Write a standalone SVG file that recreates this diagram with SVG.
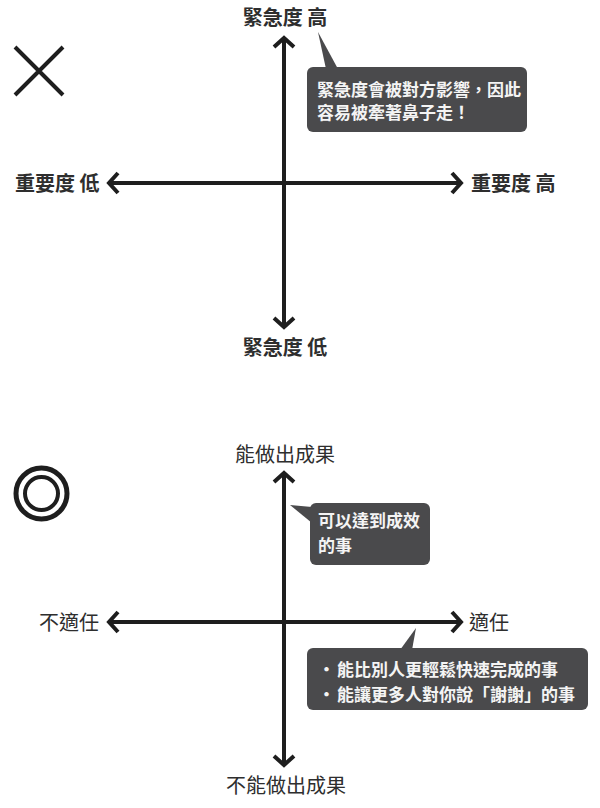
<svg xmlns="http://www.w3.org/2000/svg" width="600" height="808" viewBox="0 0 600 808">
<style>
.lbl{font-family:"Noto Sans CJK TC","Noto Sans CJK SC",sans-serif;fill:#2e2e2e;font-size:20px}
.b{font-weight:700}
.axis{stroke:#1e1e1e;stroke-width:4;fill:none}
.bubble{fill:#4a4a4c}
.btxt{font-family:"Noto Sans CJK TC","Noto Sans CJK SC",sans-serif;fill:#f4f4f4;font-size:17px;font-weight:700}
.mark{stroke:#1e1e1e;fill:none}
</style>
<defs>
<marker id="chev" markerUnits="userSpaceOnUse" markerWidth="30" markerHeight="30" viewBox="-15 -15 30 30" refX="0" refY="0" orient="auto-start-reverse">
<path d="M-10,-10 L-1,0 L-10,10" fill="none" stroke="#1e1e1e" stroke-width="4"/>
</marker>
</defs>
<rect width="600" height="808" fill="#ffffff"/>
<g id="connectors">
<line class="axis" x1="284" y1="328" x2="284" y2="37" marker-start="url(#chev)" marker-end="url(#chev)"/>
<line class="axis" x1="108" y1="183" x2="462" y2="183" marker-start="url(#chev)" marker-end="url(#chev)"/>
<line class="axis" x1="284" y1="766" x2="284" y2="472" marker-start="url(#chev)" marker-end="url(#chev)"/>
<line class="axis" x1="108" y1="622" x2="462" y2="622" marker-start="url(#chev)" marker-end="url(#chev)"/>
</g>
<g id="mark-cross">
<path class="mark" stroke-width="4" d="M15,47 L63,95 M63,47 L15,95"/>
</g>
<g id="mark-double-circle">
<circle class="mark" cx="41.5" cy="493.5" r="25.5" stroke-width="5"/>
<circle class="mark" cx="41.5" cy="493.5" r="16.5" stroke-width="4"/>
</g>
<g id="label-urgency-high"><text class="lbl b" x="285" y="25" text-anchor="middle">緊急度 高</text></g>
<g id="label-urgency-low"><text class="lbl b" x="285" y="355" text-anchor="middle">緊急度 低</text></g>
<g id="label-importance-low"><text class="lbl b" x="15" y="191">重要度 低</text></g>
<g id="label-importance-high"><text class="lbl b" x="471" y="191">重要度 高</text></g>
<g id="callout-urgency">
<polygon class="bubble" points="318,32 326,69 338,69"/>
<rect class="bubble" x="307" y="67" width="220" height="65" rx="6"/>
<text class="btxt" x="317" y="96">緊急度會被對方影響，因此</text>
<text class="btxt" x="317" y="119">容易被牽著鼻子走！</text>
</g>
<g id="label-result-yes"><text class="lbl" x="285" y="462" text-anchor="middle">能做出成果</text></g>
<g id="label-result-no"><text class="lbl" x="286" y="793" text-anchor="middle">不能做出成果</text></g>
<g id="label-unfit"><text class="lbl" x="39" y="630">不適任</text></g>
<g id="label-fit"><text class="lbl" x="469" y="630">適任</text></g>
<g id="callout-result">
<polygon class="bubble" points="290,505 312,507 312,523"/>
<rect class="bubble" x="310" y="503" width="120" height="62" rx="6"/>
<text class="btxt" x="318" y="527">可以達到成效</text>
<text class="btxt" x="318" y="552">的事</text>
</g>
<g id="callout-fit">
<polygon class="bubble" points="416,628 400,650 412,650"/>
<rect class="bubble" x="307" y="648" width="281" height="62" rx="6"/>
<text class="btxt" x="318" y="676"><tspan x="318">・</tspan><tspan x="337">能比別人更輕鬆快速完成的事</tspan></text>
<text class="btxt" x="318" y="701"><tspan x="318">・</tspan><tspan x="337">能讓更多人對你說「謝謝」的事</tspan></text>
</g>
</svg>
